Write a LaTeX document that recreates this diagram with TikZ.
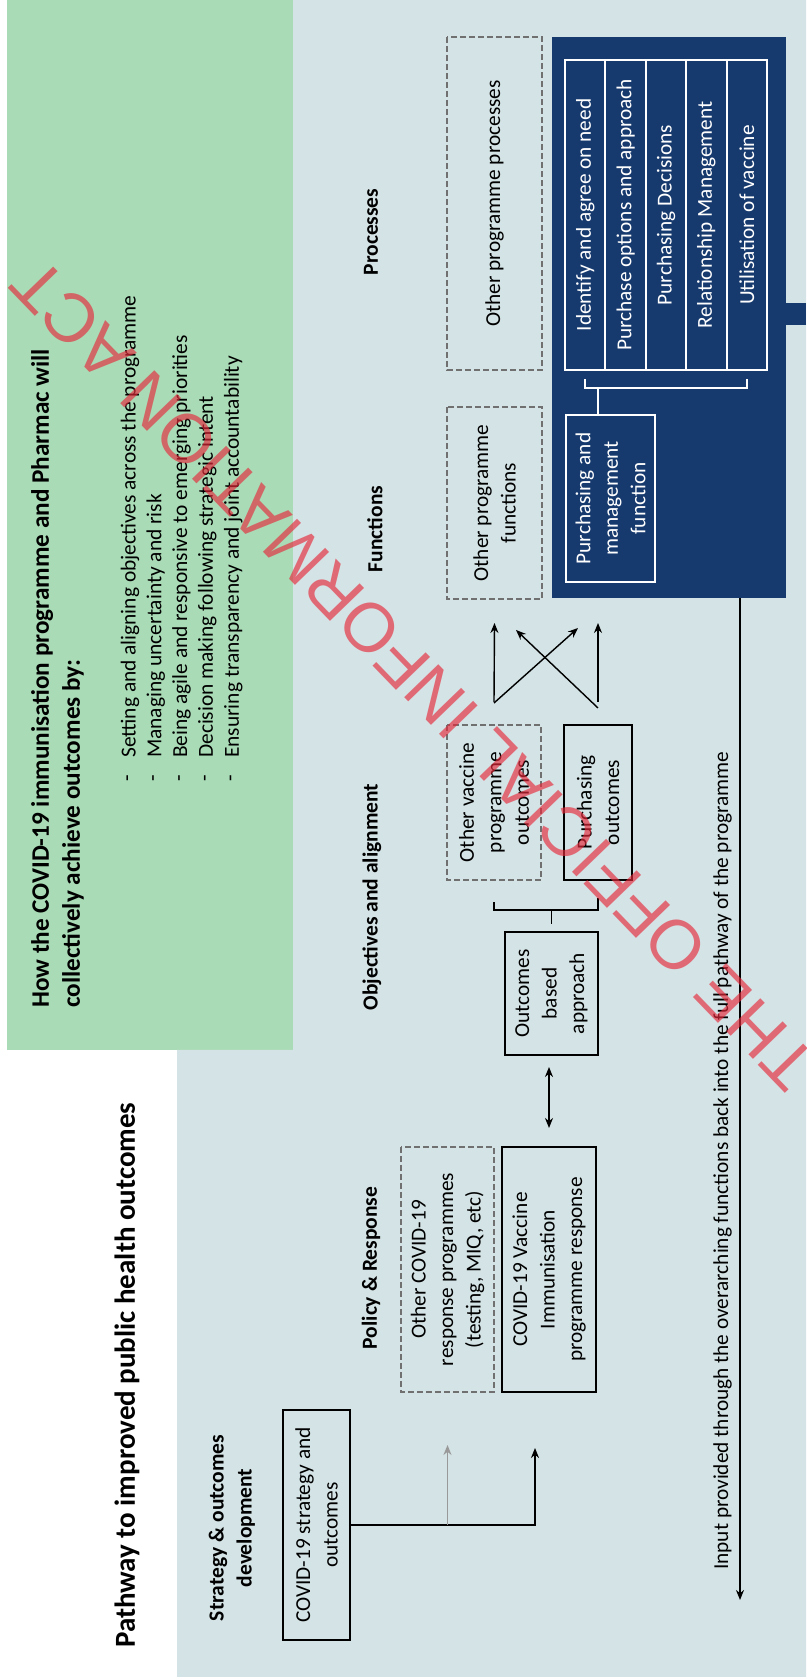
\documentclass[tikz,border=0pt]{standalone}
\usepackage{fontspec}
\setmainfont{Carlito}
\newfontfamily\stampfont{Liberation Sans}
\usepackage{tikz}
\usetikzlibrary{arrows.meta, positioning}
\definecolor{mint}{HTML}{A9DCB6}
\definecolor{paleblue}{HTML}{D4E3E5}
\definecolor{navy}{HTML}{173A6E}
\definecolor{dashgray}{HTML}{707070}
\definecolor{stampred}{HTML}{E6283A}
\newcommand{\bodyfont}{\fontsize{21.3}{27.5}\selectfont}
\newcommand{\headfont}{\fontsize{21.5}{28}\selectfont\bfseries}

\begin{document}
\begin{tikzpicture}[x=1pt, y=1pt, rotate=90, transform shape,
    >={Stealth[length=10pt,width=8pt]},
    box/.style={rectangle, draw=black, line width=2.2pt, align=center, inner sep=0pt, outer sep=0pt, font=\bodyfont},
    dashbox/.style={box, draw=dashgray, line width=1.4pt, dash pattern=on 6pt off 3pt},
    navybox/.style={box, draw=white, line width=2pt, text=white},
    heading/.style={font=\headfont, align=center, inner sep=0pt},
    arrow/.style={->, line width=1.4pt},
    link/.style={line width=1.6pt}]

    \useasboundingbox (0,-806) rectangle (1680,0);
    \fill[white] (0,-806) rectangle (1680,0);
    \fill[mint] (630,-293) rectangle (1680,-7);
    \fill[paleblue] (3,-806) -- (3,-177) -- (630,-177) -- (630,-293) -- (1680,-293) -- (1680,-806) -- cycle;

    \node[anchor=west, inner sep=0pt, font=\fontsize{29}{35}\selectfont\bfseries] (title) at (32,-127) {Pathway to improved public health outcomes};
    \node[anchor=west, align=left, inner sep=0pt, font=\fontsize{25.2}{31}\selectfont\bfseries] (how) at (672,-57.5) {How the COVID-19 immunisation programme and Pharmac will\\collectively achieve outcomes by:};
    \foreach \txt [count=\i] in {Setting and aligning objectives across the programme, Managing uncertainty and risk, Being agile and responsive to emerging priorities, Decision making following strategic intent, Ensuring transparency and joint accountability} {
        \node[anchor=west, inner sep=0pt, font=\fontsize{21.4}{26}\selectfont] (pt\i) at (922,{-130-25.8*(\i-1)}) {\txt};
        \node[inner sep=0pt, font=\fontsize{21.4}{26}\selectfont, left=17pt of pt\i] (dash\i) {-};
    }

    \node[heading] (strathd) at (152,-232) {Strategy \& outcomes\\development};
    \node[heading] (polhd) at (412,-371) {Policy \& Response};
    \node[heading] (objhd) at (783,-372) {Objectives and alignment};
    \node[heading] (funhd) at (1151,-375) {Functions};
    \node[heading] (prochd) at (1448,-371) {Processes};

    \node[box, minimum width=230pt, minimum height=67pt] (strat) at (155,-316.5) {COVID-19 strategy and\\outcomes};
    \node[dashbox, minimum width=245pt, minimum height=93pt] (othresp) at (410.5,-447.5) {Other COVID-19\\response programmes\\(testing, MIQ, etc)};
    \node[box, minimum width=245pt, minimum height=94pt, below=8pt of othresp] (vacc) {COVID-19 Vaccine\\Immunisation\\programme response};
    \node[box, minimum width=123pt, minimum height=93pt] (outc) at (686.5,-551.5) {Outcomes\\based\\approach};
    \node[dashbox, minimum width=155pt, minimum height=94pt] (othvo) at (877.5,-494) {Other vaccine\\programme\\outcomes};
    \node[box, minimum width=155pt, minimum height=68pt, below=23pt of othvo] (purout) {Purchasing\\outcomes};
    \node[dashbox, minimum width=192pt, minimum height=95pt] (othfn) at (1177,-494.5) {Other programme\\functions};
    \node[dashbox, minimum width=333pt, minimum height=95pt] (othproc) at (1476.5,-494.5) {Other programme processes};
    \node[fill=navy, minimum width=561pt, minimum height=234pt, inner sep=0pt, outer sep=0pt] (navyblock) at (1362.5,-669) {};
    \node[navybox, minimum width=167pt, minimum height=89pt] (purfn) at (1181.5,-610.5) {Purchasing and\\management\\function};
    \foreach \txt [count=\i] in {Identify and agree on need, Purchase options and approach, Purchasing Decisions, Relationship Management, Utilisation of vaccine}
        \node[navybox, minimum width=310pt, minimum height=40.4pt] (proc\i) at (1465,{-585.2-40.4*(\i-1)}) {\txt};

    \coordinate (vaccin) at ([xshift=-56pt, yshift=14pt]vacc.west);
    \draw[->, line width=2.4pt] (strat.south) |- (vaccin);
    \draw[->, line width=1.6pt, draw=gray!80] (strat.south |- othresp.west) -- ([xshift=-53pt]othresp.west);
    \draw[<->, line width=2.4pt] ([xshift=19pt]vacc.east) -- ([xshift=-12pt]outc.west |- vacc.east);

    \draw[link] ([xshift=8pt]outc.east) -- ++(14,0) coordinate (objspine);
    \draw[link] ([xshift=8pt]objspine |- othvo.west) -- (objspine |- othvo.west) -- (objspine |- purout.west) -- ([xshift=12pt]objspine |- purout.west);

    \draw[arrow] ([xshift=23pt]othvo.east) -- ([xshift=-24pt]othfn.west);
    \draw[arrow] ([xshift=23pt]purout.east) -- ([xshift=-41pt]purfn.west |- purout.east);
    \draw[arrow] ([xshift=22pt]othvo.east) -- ([xshift=-46pt, yshift=32.5pt]purfn.west);
    \draw[arrow] ([xshift=17pt]purout.east) -- ([xshift=-31pt, yshift=-21.5pt]othfn.west);

    \draw[white, line width=2pt] ([yshift=12.5pt]purfn.east) -- ++(27,0) coordinate (procspine);
    \draw[white, line width=2pt] ([xshift=9pt]procspine |- proc1.west) -- (procspine |- proc1.west) -- (procspine |- proc5.west) -- ([xshift=9pt]procspine |- proc5.west);

    \coordinate (rimedge) at (1366,-806);
    \draw[navy, line width=22pt] ([yshift=2pt]navyblock.south -| rimedge) -- (rimedge);

    \coordinate (backtip) at (80,-740);
    \draw[->, line width=1.8pt] (navyblock.west |- backtip) -- (backtip);
    \node[anchor=south west, inner sep=0pt, font=\bodyfont] (backtxt) at ([xshift=30pt, yshift=8pt]backtip) {Input provided through the overarching functions back into the full pathway of the programme};

    \begin{scope}
        \clip (0,-806) rectangle (1680,0);
        \node[rotate=44, inner sep=0pt, text=stampred, text opacity=0.65, font=\stampfont\fontsize{69}{69}\selectfont] (stamp) at (1006,-414) {THE OFFICIAL INFORMATION ACT};
    \end{scope}
\end{tikzpicture}
\end{document}
